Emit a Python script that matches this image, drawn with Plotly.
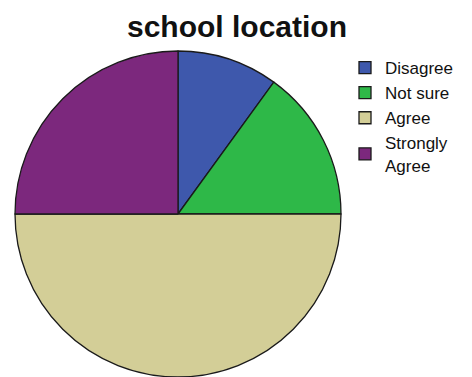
import plotly.graph_objects as go

# Responses to the "school location" item
labels = ["Disagree", "Not sure", "Agree", "Strongly<br>Agree"]
values = [10, 15, 50, 25]
colors = ["#3E58AC", "#2EB848", "#D3CE97", "#7C287D"]

W, H = 472, 377

fig = go.Figure(
    go.Pie(
        labels=labels,
        values=values,
        sort=False,
        direction="clockwise",
        rotation=0,
        textinfo="none",
        hoverinfo="label+percent",
        marker=dict(colors=colors, line=dict(color="#1a1a1a", width=1.3)),
        domain=dict(x=[14 / W, 342 / W], y=[0, 1 - 51 / H]),
    )
)

fig.update_layout(
    width=W,
    height=H,
    margin=dict(l=0, r=0, t=0, b=0),
    paper_bgcolor="white",
    plot_bgcolor="white",
    font=dict(family="Liberation Sans, Arial, sans-serif", color="#111111"),
    title=dict(
        text="<b>school location</b>",
        x=237 / W,
        xanchor="center",
        y=1 - 26 / H,
        yanchor="middle",
        font=dict(size=30, color="#111111"),
    ),
    legend=dict(
        x=345 / W,
        xanchor="left",
        y=1 - 50 / H,
        yanchor="top",
        font=dict(size=17, color="#111111"),
        bgcolor="rgba(0,0,0,0)",
        tracegroupgap=0,
        itemwidth=30,
    ),
    showlegend=True,
)

fig.write_html("out.html")
